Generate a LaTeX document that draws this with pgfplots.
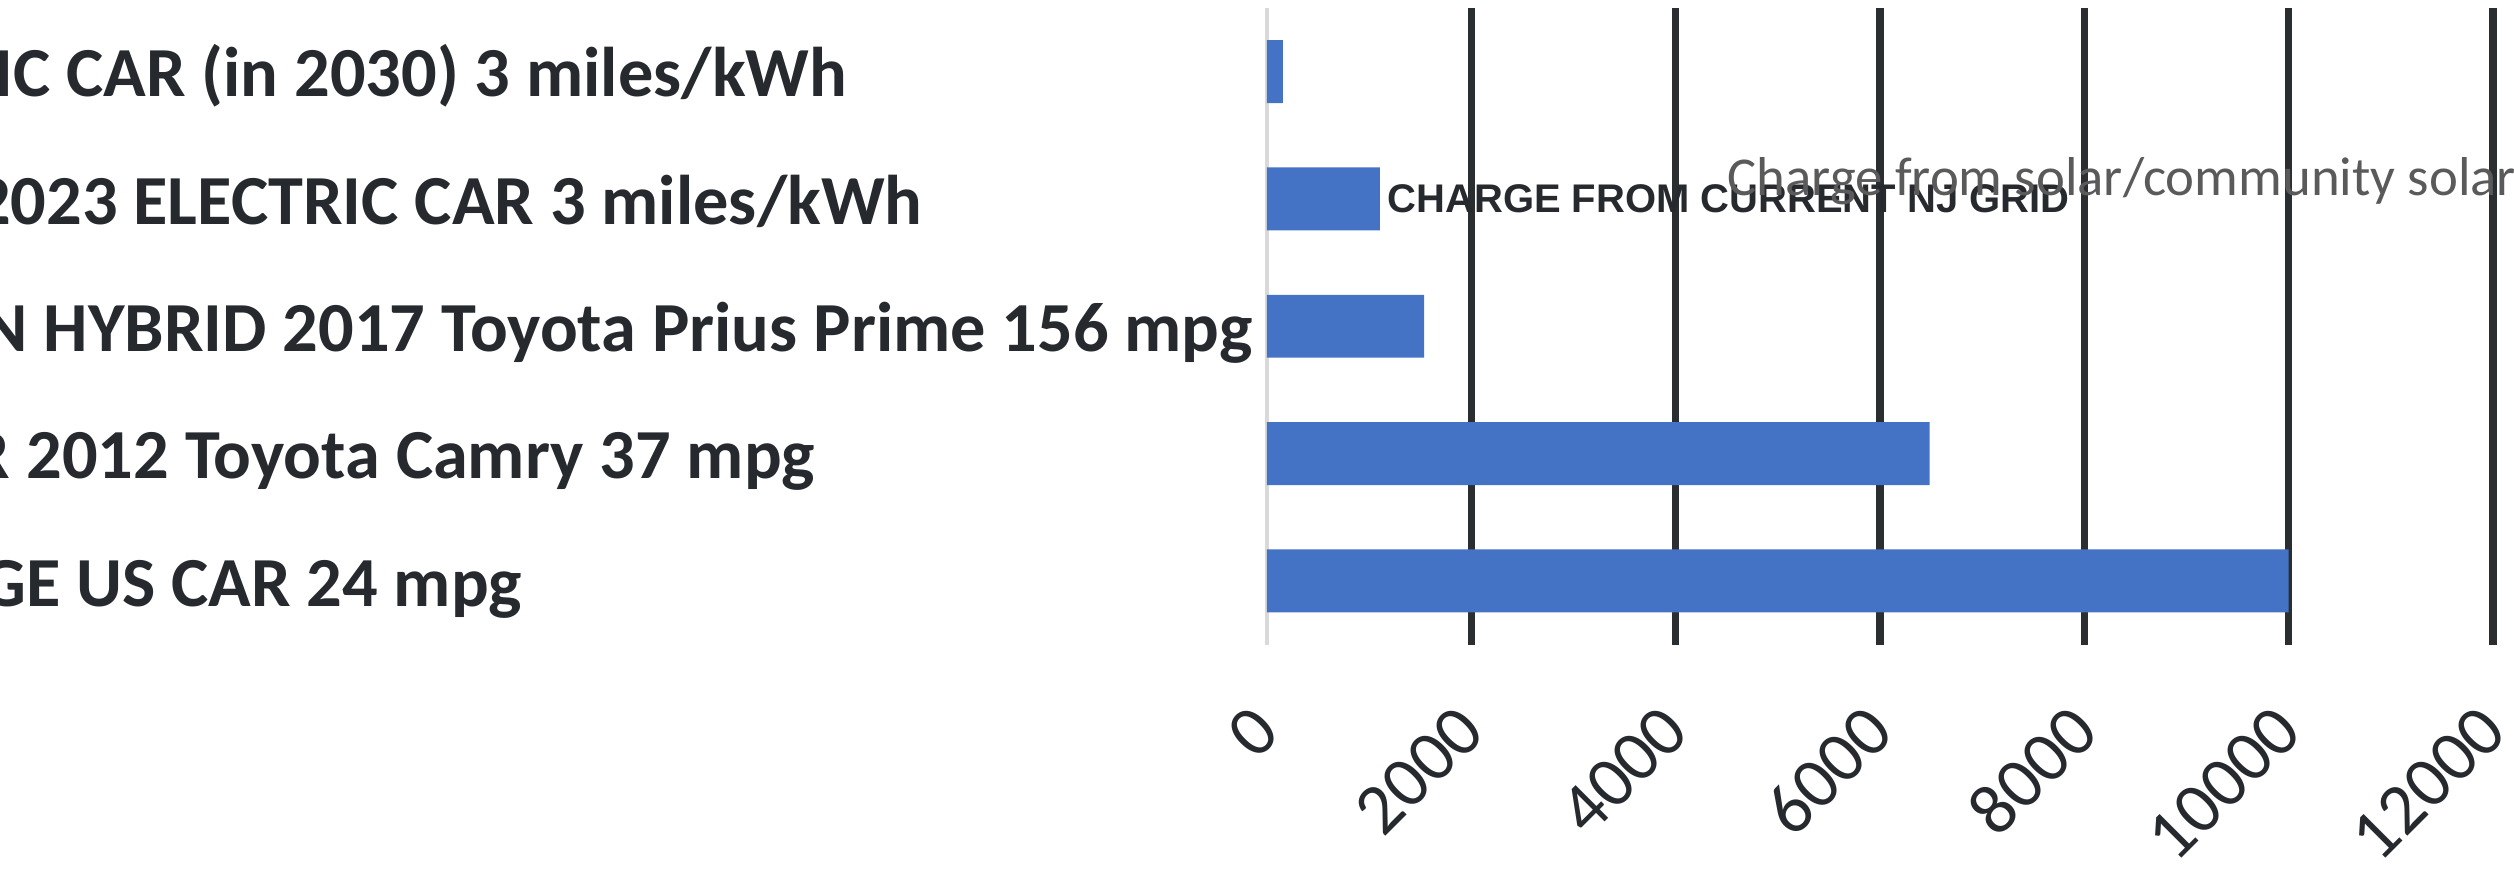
\documentclass[border=0pt]{standalone}
\usepackage{pgfplots}
\pgfplotsset{compat=1.18}
\usepackage{pgfplotstable}
\usepackage{fontspec}
\setmainfont{Carlito}
\newfontfamily\arialfont{Liberation Sans}
\definecolor{barblue}{HTML}{4472C4}
\definecolor{txt}{HTML}{262A2E}
\definecolor{gridc}{HTML}{2B2E31}
\definecolor{solar}{HTML}{5A5A5A}
\definecolor{zeroline}{HTML}{D9D9D9}
\pgfplotstableread{
idx value
0 156
1 1104
2 1538
3 6486
4 10000
}\data
\begin{document}
\begin{tikzpicture}
\begin{axis}[
  at={(0,0)}, anchor=south west,
  scale only axis,
  width=306.75pt, height=159.25pt,
  xmin=0, xmax=12000, ymin=-0.5, ymax=4.5,
  y dir=reverse,
  xbar, bar width=15.75pt,
  xtick={2000,4000,...,12000},
  extra x ticks={0},
  extra x tick style={grid=none},
  ytick={0,1,2,3,4},
  yticklabels={ELECTRIC CAR (in 2030) 3 miles/kWh, NEW\hspace{0.65em}2023 ELECTRIC CAR 3 miles/kWh, PLUG-IN HYBRID 2017 Toyota Prius Prime 156 mpg, ICE CAR 2012 Toyota Camry 37 mpg, AVERAGE US CAR 24 mpg},
  axis line style={draw=none},
  tick style={draw=none},
  major tick length=0pt,
  xmajorgrids=true,
  major grid style={gridc, line width=1.8pt},
  scaled x ticks=false,
  /pgf/number format/.cd, 1000 sep={}, assume math mode=true,
  /pgfplots/.cd,
  xticklabel style={yshift=-18.5pt, rotate=45, anchor=east, inner sep=0pt, font=\fontsize{18}{20}\selectfont, text=txt},
  yticklabel style={font=\bfseries\fontsize{17.6}{20}\selectfont, text=txt, inner sep=0pt, anchor=base west, xshift=-371pt, yshift=-6.3pt},
  clip=false,
]
\draw[zeroline, line width=0.9pt] (axis cs:0,-0.5) -- (axis cs:0,4.5);
\addplot[fill=barblue, draw=none] table[x=value, y=idx] {\data};
\node[anchor=base west, inner sep=0pt, text=txt, font=\arialfont\bfseries\fontsize{10}{12}\selectfont] at (axis cs:1174,1.11) {CHARGE FROM CURRENT NJ GRID};
\node[anchor=base west, inner sep=0pt, text=solar, font=\fontsize{13.7}{16}\selectfont] at (axis cs:4500,0.976) {Charge from solar/community solar};
\end{axis}
\pgfresetboundingbox
\path[use as bounding box] (-317pt,-59.5pt) rectangle (312pt,161.25pt);
\end{tikzpicture}
\end{document}
